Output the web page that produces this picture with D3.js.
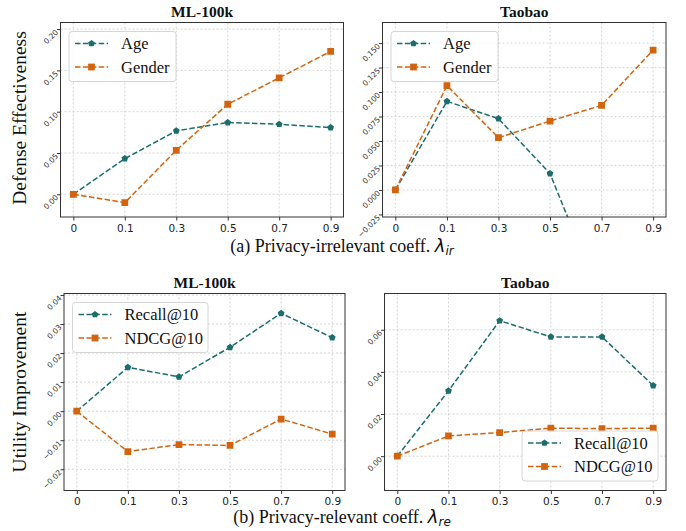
<!DOCTYPE html>
<html>
<head>
<meta charset="utf-8">
<script src="https://cdn.jsdelivr.net/npm/d3@7"></script>
<style>
  body { margin: 0; background: #fff; }
  svg { display: block; }
</style>
</head>
<body>
<div id="chart"></div>
<script>
// categories on the x axis (evenly spaced, not numeric)
var coeffs = ["0", "0.1", "0.3", "0.5", "0.7", "0.9"];

// (a) privacy-irrelevant coefficient
var mlAge = [0, 0.0432, 0.0768, 0.0869, 0.0848, 0.0808];
var mlGender = [0, -0.0101, 0.0533, 0.109, 0.141, 0.173];
var tbAge = [0, 0.0905, 0.0728, 0.0167, -0.113, -0.13];
var tbGender = [0, 0.1065, 0.0534, 0.0704, 0.0864, 0.1429];

// (b) privacy-relevant coefficient
var mlRecall = [0, 0.0151, 0.0118, 0.0220, 0.0337, 0.0253];
var mlNdcg = [0, -0.0139, -0.0115, -0.0118, -0.0027, -0.0079];
var tbRecall = [0, 0.0310, 0.0643, 0.0566, 0.0566, 0.0335];
var tbNdcg = [0, 0.0096, 0.0112, 0.0133, 0.0131, 0.0133];

// y tick values
var ticksMlA = [0, 0.05, 0.10, 0.15, 0.20];
var ticksTbA = [-0.025, 0, 0.025, 0.05, 0.075, 0.1, 0.125, 0.15];
var ticksMlB = [-0.02, -0.01, 0, 0.01, 0.02, 0.03, 0.04];
var ticksTbB = [0, 0.02, 0.04, 0.06];

var teal = "#1c6e6e";
var orange = "#d2640f";

var svg = d3.select("#chart").append("svg")
  .attr("width", 686)
  .attr("height", 531);

var serif = "'Liberation Serif', 'Times New Roman', serif";
var sans = "'DejaVu Sans', sans-serif";

// pentagon marker like matplotlib 'p'
var pentagon = {
  draw: function(context, size) {
    var r = Math.sqrt(size / 2.38);
    for (var k = 0; k < 5; k++) {
      var a = -Math.PI / 2 + k * 2 * Math.PI / 5;
      if (k === 0) context.moveTo(r * Math.cos(a), r * Math.sin(a));
      else context.lineTo(r * Math.cos(a), r * Math.sin(a));
    }
    context.closePath();
  }
};

function marker(shape) {
  return shape === "square"
    ? d3.symbol().type(d3.symbolSquare).size(46)
    : d3.symbol().type(pentagon).size(30);
}

function drawPanel(p, idx) {
  var g = svg.append("g");

  var x = d3.scalePoint()
    .domain(coeffs)
    .range([p.left, p.right])
    .padding(0.25);

  var y = d3.scaleLinear()
    .domain(p.ydom)
    .range([p.bottom, p.top]);

  // grid
  g.append("g").selectAll("line")
    .data(coeffs).enter().append("line")
    .attr("x1", function(d) { return x(d); })
    .attr("x2", function(d) { return x(d); })
    .attr("y1", p.top).attr("y2", p.bottom)
    .attr("stroke", "#cccccc").attr("stroke-width", 0.8)
    .attr("stroke-dasharray", "2,2");

  g.append("g").selectAll("line")
    .data(p.ticks).enter().append("line")
    .attr("x1", p.left).attr("x2", p.right)
    .attr("y1", function(d) { return y(d); })
    .attr("y2", function(d) { return y(d); })
    .attr("stroke", "#cccccc").attr("stroke-width", 0.8)
    .attr("stroke-dasharray", "2,2");

  // axes
  var xAxis = d3.axisBottom(x).tickSize(3.5).tickPadding(4);
  var gx = g.append("g")
    .attr("transform", "translate(0," + p.bottom + ")")
    .call(xAxis);
  gx.select(".domain").remove();
  gx.selectAll("line").attr("stroke", "#333");
  gx.selectAll("text")
    .attr("font-family", sans)
    .attr("font-size", 10.5)
    .attr("fill", "#222");

  var fmt = d3.format(p.fmt);
  var yAxis = d3.axisLeft(y).tickValues(p.ticks).tickSize(3.5)
    .tickFormat(function(d) { return fmt(d).replace("-", "\u2212"); });
  var gy = g.append("g")
    .attr("transform", "translate(" + p.left + ",0)")
    .call(yAxis);
  gy.select(".domain").remove();
  gy.selectAll("line").attr("stroke", "#333");
  gy.selectAll("text")
    .attr("font-family", sans)
    .attr("font-size", 7.5)
    .attr("fill", "#333")
    .attr("x", -5)
    .attr("dy", "0.6em")
    .attr("text-anchor", "end")
    .attr("transform", "rotate(-45,-5,0)");

  // clip
  var clipId = "clip" + idx;
  g.append("clipPath").attr("id", clipId)
    .append("rect")
    .attr("x", p.left).attr("y", p.top)
    .attr("width", p.right - p.left).attr("height", p.bottom - p.top);

  var line = d3.line()
    .x(function(d, i) { return x(coeffs[i]); })
    .y(function(d) { return y(d); });

  var plot = g.append("g").attr("clip-path", "url(#" + clipId + ")");

  p.series.forEach(function(s) {
    plot.append("path")
      .datum(s.values)
      .attr("d", line)
      .attr("fill", "none")
      .attr("stroke", s.color)
      .attr("stroke-width", 1.5)
      .attr("stroke-dasharray", "5.5,2.4");

    plot.selectAll(null)
      .data(s.values).enter().append("path")
      .attr("d", marker(s.shape))
      .attr("transform", function(d, i) {
        return "translate(" + x(coeffs[i]) + "," + y(d) + ")";
      })
      .attr("fill", s.color);
  });

  // frame
  g.append("rect")
    .attr("x", p.left).attr("y", p.top)
    .attr("width", p.right - p.left).attr("height", p.bottom - p.top)
    .attr("fill", "none").attr("stroke", "#333").attr("stroke-width", 1);

  // title
  g.append("text")
    .attr("x", (p.left + p.right) / 2)
    .attr("y", p.top - 6)
    .attr("text-anchor", "middle")
    .attr("font-family", serif)
    .attr("font-weight", "bold")
    .attr("font-size", 15.5)
    .attr("fill", "#111")
    .text(p.title);

  // legend
  var lg = g.append("g").attr("transform", "translate(" + p.legend[0] + "," + p.legend[1] + ")");
  lg.append("rect")
    .attr("width", p.legend[2]).attr("height", 50)
    .attr("rx", 3)
    .attr("fill", "#fff").attr("fill-opacity", 0.85)
    .attr("stroke", "#d6d6d6").attr("stroke-width", 1);
  p.series.forEach(function(s, i) {
    var ly = 12 + i * 23.5;
    lg.append("line")
      .attr("x1", 6).attr("x2", 39)
      .attr("y1", ly).attr("y2", ly)
      .attr("stroke", s.color).attr("stroke-width", 1.5)
      .attr("stroke-dasharray", "5.5,2.4");
    lg.append("path")
      .attr("d", marker(s.shape))
      .attr("transform", "translate(22.5," + ly + ")")
      .attr("fill", s.color);
    lg.append("text")
      .attr("x", 52).attr("y", ly + 5.5)
      .attr("font-family", serif)
      .attr("font-size", 16.5)
      .attr("fill", "#111")
      .text(s.name);
  });
}

var panels = [
  {title: "ML-100k", left: 60.5, right: 343.5, top: 22.5, bottom: 217, ydom: [-0.0275, 0.208],
   ticks: ticksMlA, fmt: ".2f", legend: [69, 31.5, 107],
   series: [{name: "Age", values: mlAge, color: teal, shape: "pentagon"},
            {name: "Gender", values: mlGender, color: orange, shape: "square"}]},
  {title: "Taobao", left: 382.5, right: 666, top: 22.5, bottom: 217, ydom: [-0.0276, 0.171],
   ticks: ticksTbA, fmt: ".3f", legend: [391, 31.5, 107],
   series: [{name: "Age", values: tbAge, color: teal, shape: "pentagon"},
            {name: "Gender", values: tbGender, color: orange, shape: "square"}]},
  {title: "ML-100k", left: 64, right: 345, top: 293.5, bottom: 490.5, ydom: [-0.0273, 0.0405],
   ticks: ticksMlB, fmt: ".2f", legend: [72.5, 302.5, 135.5],
   series: [{name: "Recall@10", values: mlRecall, color: teal, shape: "pentagon"},
            {name: "NDCG@10", values: mlNdcg, color: orange, shape: "square"}]},
  {title: "Taobao", left: 384.5, right: 666, top: 293.5, bottom: 490.5, ydom: [-0.0163, 0.0772],
   ticks: ticksTbB, fmt: ".2f", legend: [522, 431, 136],
   series: [{name: "Recall@10", values: tbRecall, color: teal, shape: "pentagon"},
            {name: "NDCG@10", values: tbNdcg, color: orange, shape: "square"}]}
];

panels.forEach(drawPanel);

// y labels
svg.append("text")
  .attr("transform", "translate(26,118) rotate(-90)")
  .attr("text-anchor", "middle")
  .attr("font-family", serif).attr("font-size", 19.5).attr("fill", "#111")
  .text("Defense Effectiveness");
svg.append("text")
  .attr("transform", "translate(26,392) rotate(-90)")
  .attr("text-anchor", "middle")
  .attr("font-family", serif).attr("font-size", 19.5).attr("fill", "#111")
  .text("Utility Improvement");

// captions
function caption(yPos, label, sub) {
  var t = svg.append("text")
    .attr("x", 342).attr("y", yPos)
    .attr("text-anchor", "middle")
    .attr("font-family", serif).attr("font-size", 18).attr("fill", "#111");
  t.append("tspan").text(label + " ");
  t.append("tspan")
    .attr("font-family", sans).attr("font-style", "italic")
    .text("\u03bb");
  t.append("tspan")
    .attr("font-family", sans).attr("font-style", "italic")
    .attr("font-size", 12).attr("dy", 3)
    .text(sub);
}
caption(252, "(a) Privacy-irrelevant coeff.", "ir");
caption(523, "(b) Privacy-relevant coeff.", "re");
</script>
</body>
</html>
